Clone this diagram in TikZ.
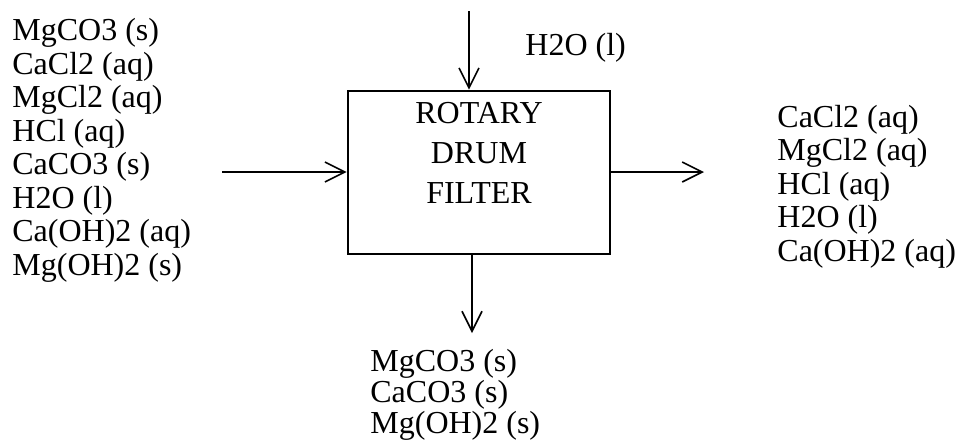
\documentclass[tikz,border=0pt]{standalone}
\usepackage{fontspec}
\setmainfont{Liberation Serif}
\usetikzlibrary{arrows.meta}
\begin{document}
\begin{tikzpicture}[x=0.5pt,y=-0.5pt,
  flow/.style={line width=0.8pt,-{Straight Barb[length=10pt,width=10pt,line width=0.8pt]}},
  unitbox/.style={draw,line width=1.3pt,minimum width=131pt,minimum height=81.5pt,inner sep=0pt},
  lbl/.style={inner sep=0pt,font=\fontsize{16}{16.75}\selectfont,align=left,anchor=base west},
  lbltight/.style={inner sep=0pt,font=\fontsize{16}{12.5}\selectfont,align=left,anchor=base west}]
\useasboundingbox (0,0) rectangle (959,447);
\node[unitbox] (box) at (479,172.5) {};
\node[inner sep=0pt,anchor=base,font=\fontsize{16}{20}\selectfont,align=center] (boxtxt) at (479,203.3) {ROTARY\\DRUM\\FILTER};
\coordinate (topin) at (469,11);
\coordinate (leftin) at (222,172);
\coordinate (rightout) at (704,172);
\coordinate (botout) at (472,333);
\draw[flow] (topin) -- (topin |- box.north);
\draw[flow] (leftin) -- (leftin -| box.west);
\draw[flow] (box.east |- rightout) -- (rightout);
\draw[flow] (botout |- box.south) -- (botout);
\node[lbl] (h2o) at (525,55) {H2O (l)};
\node[lbl] (feed) at (12,275.2) {MgCO3 (s)\\CaCl2 (aq)\\MgCl2 (aq)\\HCl (aq)\\CaCO3 (s)\\H2O (l)\\Ca(OH)2 (aq)\\Mg(OH)2 (s)};
\node[lbl] (filtrate) at (777,261) {CaCl2 (aq)\\MgCl2 (aq)\\HCl (aq)\\H2O (l)\\Ca(OH)2 (aq)};
\node[lbltight] (cake) at (370,433.3) {MgCO3 (s)\\CaCO3 (s)\\Mg(OH)2 (s)};
\end{tikzpicture}
\end{document}
